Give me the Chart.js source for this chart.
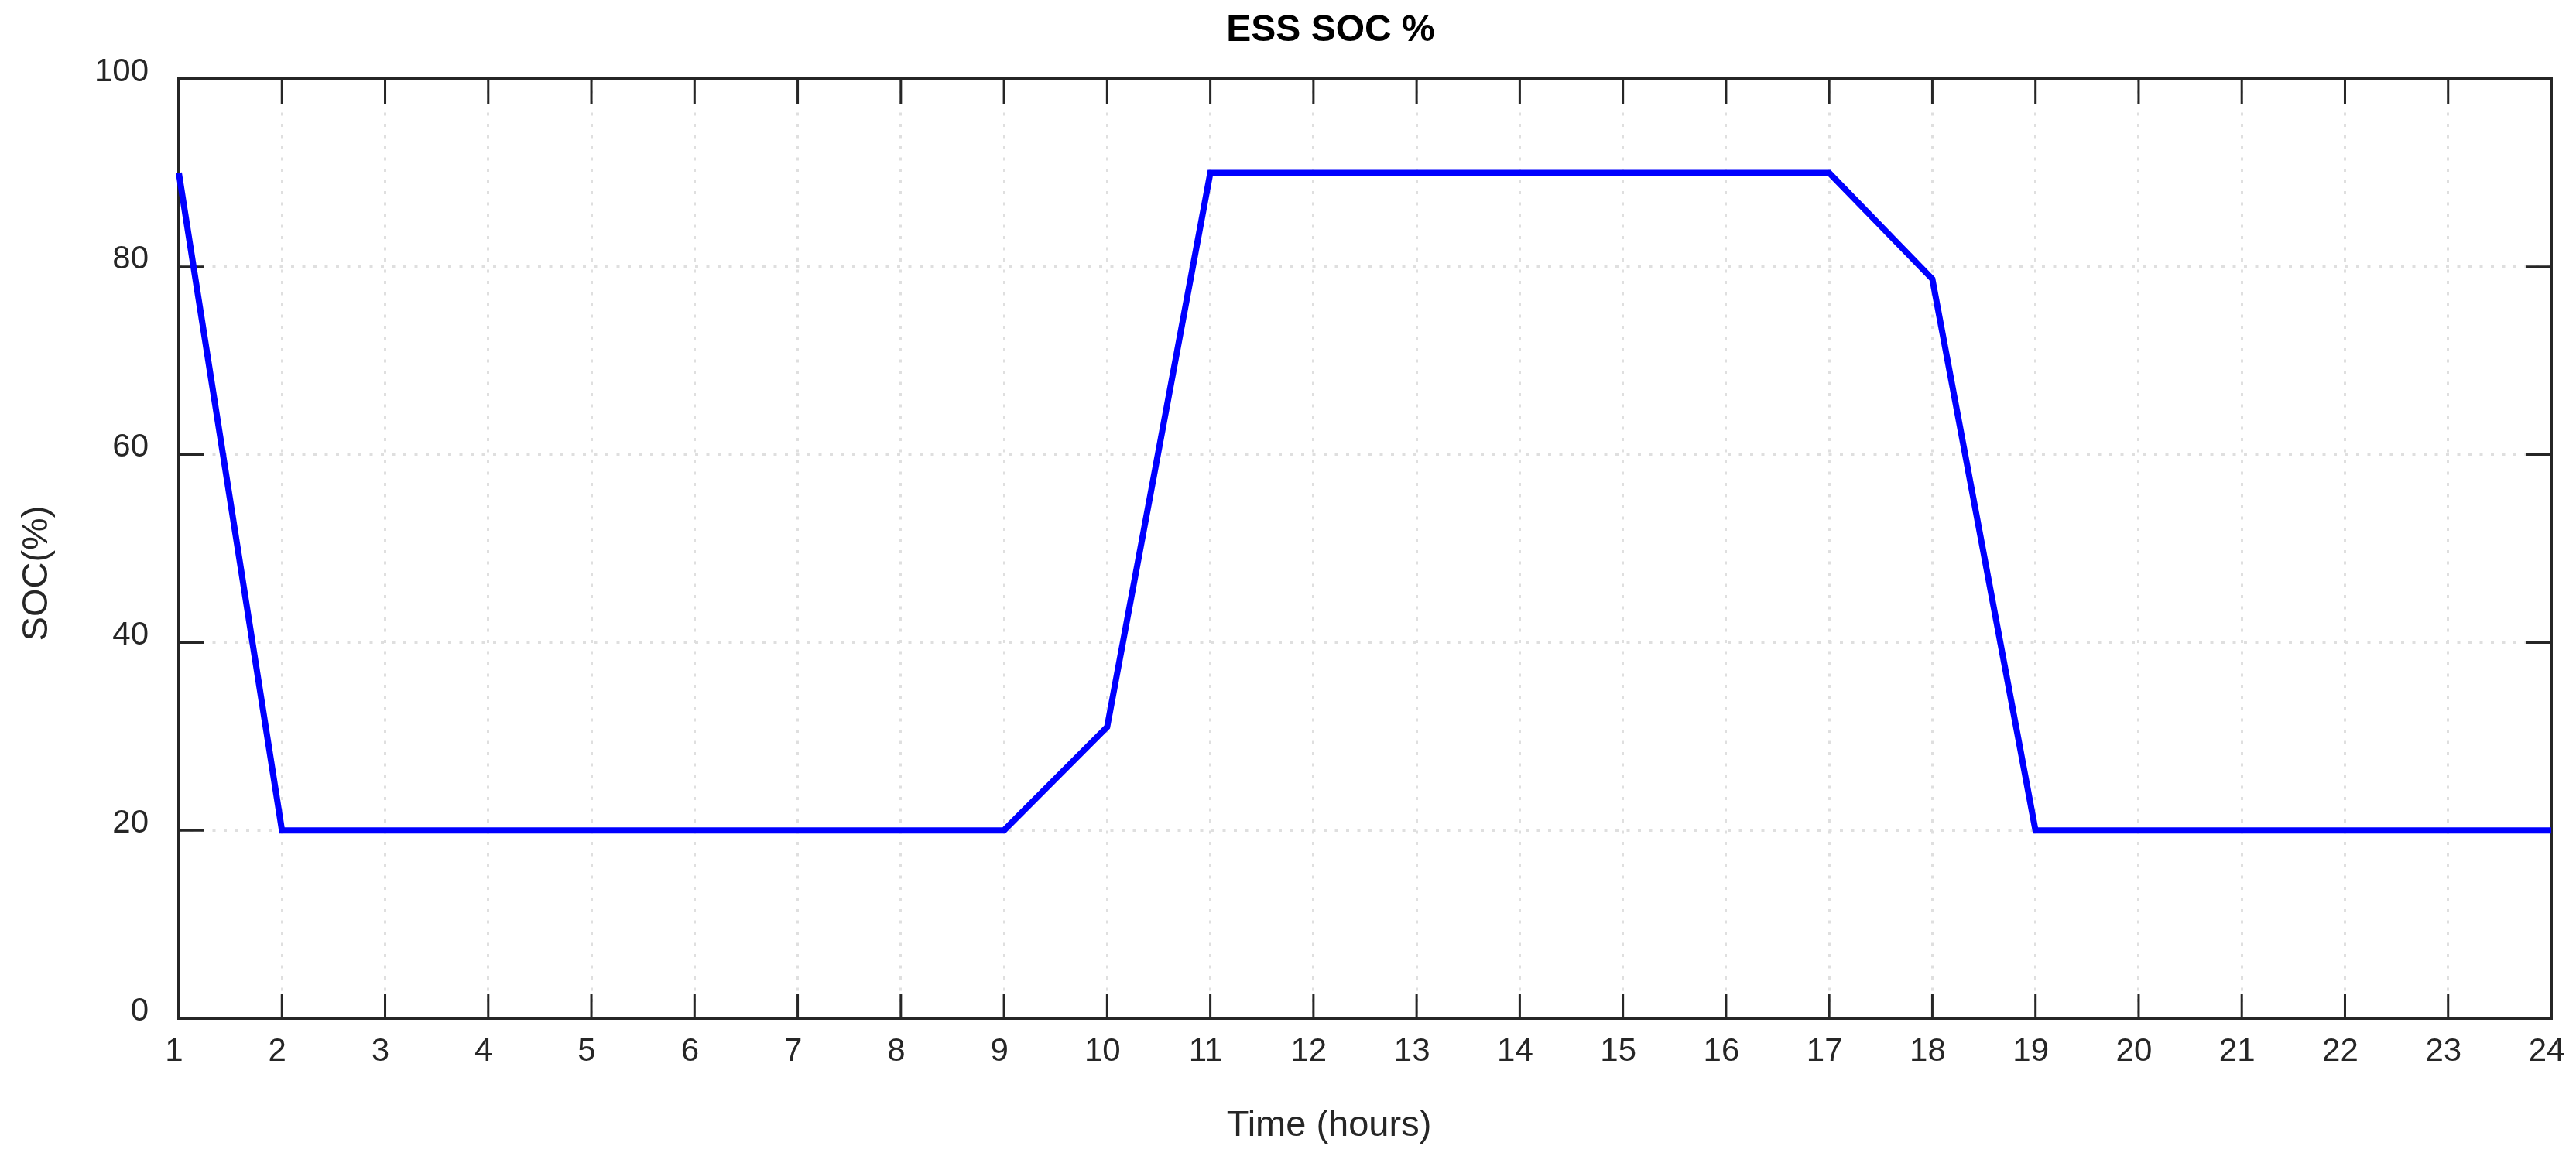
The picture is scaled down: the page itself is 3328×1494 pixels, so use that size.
<!DOCTYPE html>
<html>
<head>
<meta charset="utf-8">
<title>ESS SOC %</title>
<script src="https://cdn.jsdelivr.net/npm/chart.js@4.4.1/dist/chart.umd.min.js"></script>
<style>
  html, body { margin: 0; padding: 0; background: #ffffff; }
  #wrap { width: 3328px; height: 1494px; }
</style>
</head>
<body>
<div id="wrap"><canvas id="chartCanvas" width="3328" height="1494"></canvas></div>
<script>
// data
const hours = [1, 2, 3, 4, 5, 6, 7, 8, 9, 10, 11, 12, 13, 14, 15, 16, 17, 18, 19, 20, 21, 22, 23, 24];
const soc = [90, 20, 20, 20, 20, 20, 20, 20, 20, 31, 90, 90, 90, 90, 90, 90, 90, 78.7, 20, 20, 20, 20, 20, 20];
const yTickValues = [0, 20, 40, 60, 80, 100];

const chartTitle = 'ESS SOC %';
const xTitle = 'Time (hours)';
const yTitle = 'SOC(%)';

const FONT = '"Liberation Sans", Arial, sans-serif';
const INK = '#262626';

// frame + inward tick marks on all four sides (drawn under the line)
const framePlugin = {
  id: 'frame',
  beforeDatasetsDraw(chart) {
    const { ctx, chartArea: a, scales: { x, y } } = chart;
    const tl = 32;
    ctx.save();
    ctx.strokeStyle = INK;
    ctx.lineWidth = 3;
    x.ticks.forEach(t => {
      const px = x.getPixelForValue(t.value);
      ctx.beginPath();
      ctx.moveTo(px, a.bottom); ctx.lineTo(px, a.bottom - tl);
      ctx.moveTo(px, a.top); ctx.lineTo(px, a.top + tl);
      ctx.stroke();
    });
    y.ticks.forEach(t => {
      const py = y.getPixelForValue(t.value);
      ctx.beginPath();
      ctx.moveTo(a.left, py); ctx.lineTo(a.left + tl, py);
      ctx.moveTo(a.right, py); ctx.lineTo(a.right - tl, py);
      ctx.stroke();
    });
    ctx.lineWidth = 4;
    ctx.strokeRect(a.left, a.top, a.right - a.left, a.bottom - a.top);
    ctx.restore();
  }
};

// chart title and axis titles
const titlesPlugin = {
  id: 'titles',
  afterDraw(chart) {
    const ctx = chart.ctx;
    ctx.save();
    ctx.fillStyle = '#000000';
    ctx.textAlign = 'center';
    ctx.textBaseline = 'middle';
    ctx.font = 'bold 48px ' + FONT;
    ctx.fillText(chartTitle, 1719, 40);
    ctx.fillStyle = INK;
    ctx.font = '47px ' + FONT;
    ctx.fillText(xTitle, 1717, 1455);
    ctx.translate(48, 741);
    ctx.rotate(-Math.PI / 2);
    ctx.fillText(yTitle, 0, 0);
    ctx.restore();
  }
};

const ctx = document.getElementById('chartCanvas').getContext('2d');
new Chart(ctx, {
  type: 'line',
  data: {
    datasets: [{
      label: 'ESS SOC',
      data: hours.map((h, i) => ({ x: h, y: soc[i] })),
      borderColor: '#0000ff',
      backgroundColor: '#0000ff',
      borderWidth: 8,
      borderJoinStyle: 'miter',
      pointRadius: 0,
      tension: 0,
      fill: false,
      clip: 10
    }]
  },
  options: {
    responsive: false,
    animation: false,
    devicePixelRatio: 1,
    layout: { padding: { left: 0, right: 32, top: 102, bottom: 0 } },
    plugins: {
      legend: { display: false },
      title: { display: false },
      tooltip: { enabled: false }
    },
    scales: {
      x: {
        type: 'linear',
        min: 1,
        max: 24,
        afterFit(scale) {
          scale.height = 178;
          scale.paddingLeft = 0;
          scale.paddingRight = 0;
        },
        afterBuildTicks(scale) { scale.ticks = hours.map(v => ({ value: v })); },
        ticks: {
          stepSize: 1,
          padding: 18,
          labelOffset: -6,
          color: INK,
          font: { family: FONT, size: 42 }
        },
        grid: { color: '#dfdfdf', lineWidth: 3, drawTicks: false },
        border: { display: false, dash: [4, 10.5] }
      },
      y: {
        min: 0,
        max: 100,
        afterFit(scale) {
          scale.width = 231;
          scale.paddingTop = 0;
          scale.paddingBottom = 0;
        },
        afterBuildTicks(scale) { scale.ticks = yTickValues.map(v => ({ value: v })); },
        ticks: {
          padding: 39,
          labelOffset: -9,
          color: INK,
          font: { family: FONT, size: 42 }
        },
        grid: { color: '#dfdfdf', lineWidth: 3, drawTicks: false },
        border: { display: false, dash: [4, 10.5] }
      }
    }
  },
  plugins: [framePlugin, titlesPlugin]
});
</script>
</body>
</html>
